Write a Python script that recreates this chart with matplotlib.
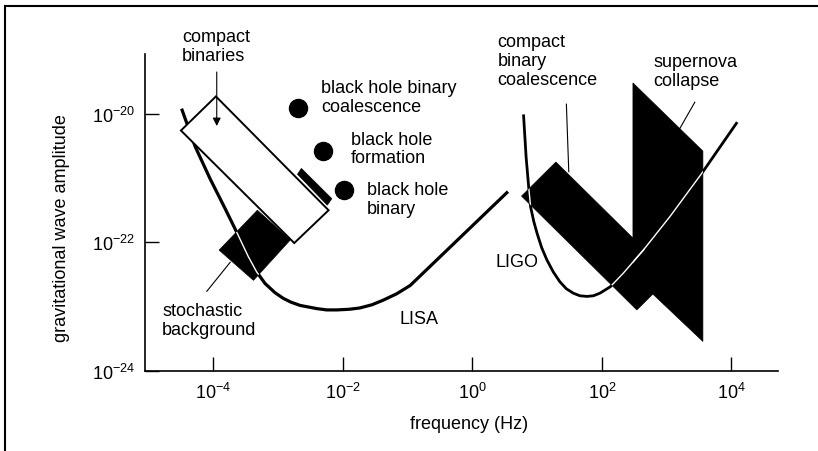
import numpy as np
import matplotlib
matplotlib.use('Agg')
import matplotlib.pyplot as plt
from matplotlib.lines import Line2D
from matplotlib.patches import Polygon

plt.rcParams['font.family'] = 'Liberation Sans'
plt.rcParams['mathtext.fontset'] = 'custom'
plt.rcParams['mathtext.rm'] = 'Liberation Sans'
plt.rcParams['mathtext.default'] = 'regular'

# sensitivity curves, log10(frequency) / log10(amplitude)
lisa_logf = [-4.49, -4.28, -4.05, -3.82, -3.63, -3.46, -3.33, -3.20, -3.05, -2.92, -2.80,
             -2.66, -2.40, -2.25, -2.09, -1.90, -1.74, -1.55, -1.38, -1.17, -0.96, 0.55]
lisa_logh = [-19.92, -20.51, -21.01, -21.47, -21.86, -22.22, -22.46, -22.64, -22.78, -22.87, -22.93,
             -22.98, -23.03, -23.05, -23.05, -23.04, -23.02, -22.97, -22.90, -22.80, -22.67, -21.21]

ligo_logf = [0.79, 0.83, 0.87, 0.90, 0.95, 1.00, 1.07, 1.15, 1.25, 1.35, 1.45, 1.56, 1.66,
             1.77, 1.87, 1.97, 2.13, 2.33, 2.64, 3.05, 3.54, 4.09]
ligo_logh = [-20.01, -20.67, -21.14, -21.45, -21.68, -21.86, -22.08, -22.27, -22.46, -22.61,
             -22.72, -22.79, -22.83, -22.84, -22.83, -22.79, -22.69, -22.48, -22.12, -21.60,
             -20.93, -20.13]

# source regions, corners as (log10 f, log10 h)
compact_binaries = [(-4.50, -20.26), (-3.96, -19.73), (-2.22, -21.50), (-2.75, -22.01)]
compact_bar = [(-2.70, -20.94), (-2.64, -20.85), (-2.17, -21.32), (-2.24, -21.42)]
stochastic = [(-3.91, -22.12), (-3.32, -21.50), (-2.81, -21.96), (-3.38, -22.59)]
cbc = [(0.76, -21.28), (1.29, -20.75), (3.07, -22.52), (2.54, -23.05)]
supernova = [(2.48, -19.52), (3.56, -20.58), (3.56, -23.54), (2.48, -22.51)]

# black hole sources
bh_logf = [-2.70, -2.30, -1.98]
bh_logh = [-19.91, -20.58, -21.18]

xtick_exp = [-4, -2, 0, 2, 4]
ytick_exp = [-24, -22, -20]


def pts(corners):
    return [(10.0 ** a, 10.0 ** b) for a, b in corners]


fig = plt.figure(figsize=(8.18, 4.52), dpi=100)
ax = fig.add_axes([145 / 818, 1 - 372 / 452, (778 - 145) / 818, (372 - 55) / 452])
ax.set_xscale('log')
ax.set_yscale('log')
ax.set_xlim(10 ** -5.055, 10 ** 4.72)
ax.set_ylim(1e-24, 10 ** -19.07)

lisa_f = 10.0 ** np.array(lisa_logf)
lisa_h = 10.0 ** np.array(lisa_logh)
ligo_f = 10.0 ** np.array(ligo_logf)
ligo_h = 10.0 ** np.array(ligo_logh)

ax.plot(lisa_f, lisa_h, color='black', lw=2.3, zorder=2, solid_capstyle='butt',
        solid_joinstyle='round')
ax.plot(ligo_f, ligo_h, color='black', lw=2.0, zorder=2, solid_capstyle='butt',
        solid_joinstyle='round')

stoch_patch = Polygon(pts(stochastic), closed=True, fc='black', ec='black', lw=0.5, zorder=3)
ax.add_patch(stoch_patch)
ax.add_patch(Polygon(pts(compact_binaries), closed=True, fc='white', ec='black', lw=1.4, zorder=4))
ax.add_patch(Polygon(pts(compact_bar), closed=True, fc='black', ec='black', lw=0.5, zorder=5))
cbc_patch = Polygon(pts(cbc), closed=True, fc='black', ec='black', lw=0.5, zorder=3)
sn_patch = Polygon(pts(supernova), closed=True, fc='black', ec='black', lw=0.5, zorder=3)
ax.add_patch(cbc_patch)
ax.add_patch(sn_patch)

# curves show as white where they cross the black regions
w, = ax.plot(lisa_f, lisa_h, color='white', lw=1.0, zorder=6)
w.set_clip_path(stoch_patch)
for p in (cbc_patch, sn_patch):
    w, = ax.plot(ligo_f, ligo_h, color='white', lw=1.0, zorder=6)
    w.set_clip_path(p)

ax.plot(10.0 ** np.array(bh_logf), 10.0 ** np.array(bh_logh), 'o', color='black',
        ms=13, zorder=5)

# labels
fs = 13
kw = dict(fontsize=fs, ha='left', va='top', linespacing=1.15)
ax.text(10 ** -4.48, 10 ** -18.66, 'compact\nbinaries', **kw)
ax.text(10 ** -2.33, 10 ** -19.46, 'black hole binary\ncoalescence', **kw)
ax.text(10 ** -1.88, 10 ** -20.26, 'black hole\nformation', **kw)
ax.text(10 ** -1.63, 10 ** -21.05, 'black hole\nbinary', **kw)
ax.text(10 ** -4.79, 10 ** -22.92, 'stochastic\nbackground', **kw)
ax.text(10 ** -1.13, 10 ** -23.05, 'LISA', **kw)
ax.text(10 ** 0.355, 10 ** -22.17, 'LIGO', **kw)
ax.text(10 ** 0.39, 10 ** -18.74, 'compact\nbinary\ncoalescence', **kw)
ax.text(10 ** 2.79, 10 ** -19.05, 'supernova\ncollapse', **kw)

ax.annotate('', xy=(10 ** -3.947, 10 ** -20.19), xytext=(10 ** -3.947, 10 ** -19.35),
            arrowprops=dict(arrowstyle='-|>', color='black', lw=0.8,
                            mutation_scale=12, shrinkA=0, shrinkB=0),
            annotation_clip=False, zorder=7)
ax.plot([10 ** -4.10, 10 ** -3.74], [10 ** -22.76, 10 ** -22.31], color='black', lw=0.8, zorder=7)
ax.plot([10 ** 1.452, 10 ** 1.489], [10 ** -19.85, 10 ** -20.90], color='black', lw=0.8,
        zorder=7, clip_on=False)
ax.plot([10 ** 3.435, 10 ** 3.203], [10 ** -19.82, 10 ** -20.23], color='black', lw=0.8, zorder=7)

# axes styling
for s in ('top', 'right'):
    ax.spines[s].set_visible(False)
for s in ('left', 'bottom'):
    ax.spines[s].set_linewidth(1.2)

ax.set_xticks([10.0 ** e for e in xtick_exp])
ax.set_xticklabels([r'$10^{%d}$' % e for e in xtick_exp])
ax.set_yticks([10.0 ** e for e in ytick_exp])
ax.set_yticklabels([r'$10^{%d}$' % e for e in ytick_exp])
ax.minorticks_off()
ax.tick_params(axis='both', direction='in', length=10, width=1.0, labelsize=13)
ax.tick_params(axis='x', pad=8)
ax.tick_params(axis='y', pad=7)

fig.text(469 / 818, 1 - 425 / 452, 'frequency (Hz)', fontsize=fs, ha='center', va='center')
fig.text(62 / 818, 1 - 228 / 452, 'gravitational wave amplitude', fontsize=fs,
         rotation=90, ha='center', va='center')

# page frame
fig.add_artist(Line2D([5 / 818, 1], [1 - 7 / 452, 1 - 7 / 452], transform=fig.transFigure,
                      color='black', lw=1.5))
fig.add_artist(Line2D([5 / 818, 5 / 818], [0, 1 - 7 / 452], transform=fig.transFigure,
                      color='black', lw=1.5))

fig.savefig('out.png', dpi=100)
